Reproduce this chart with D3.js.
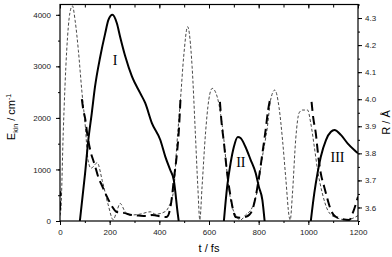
<!DOCTYPE html>
<html>
<head>
<meta charset="utf-8">
<script src="https://cdn.jsdelivr.net/npm/d3@7"></script>
<style>
  body { margin: 0; background: #fff; }
  svg { display: block; }
  .tick text { font-family: "Liberation Sans", Arial, sans-serif; font-size: 8px; fill: #222; }
  .axis path, .axis line { stroke: #000; }
</style>
</head>
<body>
<div id="container"></div>
<script>
// kinetic energy humps (t in fs, E in cm^-1)
const humpI = [[80,0],[101,925],[114,1571],[128,2095],[141,2605],[162,3187],[182,3640],[195,3900],[211,4000],[229,3835],[242,3575],[263,3190],[290,2800],[323,2480],[343,2290],[370,1900],[404,1571],[424,1250],[444,990],[458,800],[465,540],[471,270],[478,0]];
const humpII = [[660,0],[673,660],[687,1125],[700,1436],[716,1630],[727,1610],[747,1436],[768,1183],[788,930],[801,660],[815,407],[824,0]];
const humpIII = [[1010,0],[1024,540],[1037,930],[1050,1240],[1071,1571],[1091,1730],[1105,1765],[1131,1670],[1158,1507],[1185,1377],[1200,1313]];

// distance R (Å), short dashes
const rShort = [[0,3.57],[4,3.60],[13,3.875],[27,4.18],[40,4.32],[50,4.345],[61,4.29],[74,4.18],[88,4.03],[101,3.91],[113,3.775],[125,3.745],[150,3.765],[170,3.70],[194,3.61],[214,3.555],[230,3.59],[242,3.615],[263,3.583],[283,3.572],[320,3.575],[365,3.584],[384,3.575],[424,3.585],[438,3.603],[458,3.665],[471,3.838],[485,3.997],[498,4.157],[514,4.268],[532,4.12],[545,3.875],[555,3.676],[563,3.554],[572,3.676],[586,3.875],[599,3.997],[613,4.04],[633,4.009],[646,3.95],[660,3.85],[673,3.727],[687,3.628],[707,3.572],[727,3.554],[747,3.572],[774,3.60],[795,3.665],[815,3.787],[835,3.897],[848,3.997],[865,4.034],[882,3.97],[896,3.85],[909,3.71],[923,3.565],[927,3.554],[936,3.65],[949,3.85],[963,3.95],[976,3.96],[997,3.96],[1010,3.91],[1024,3.825],[1037,3.74],[1057,3.65],[1078,3.59],[1105,3.565],[1158,3.554],[1179,3.56],[1200,3.57]];

// distance R (Å), long dashes; null = gap where the curve is not shown
const rLong = [[0,3.59],[1.5,3.66],null,[88,4.0],[94,3.96],[101,3.93],[110,3.87],[121,3.815],[139,3.76],[155,3.71],[168,3.683],[189,3.64],[209,3.605],[229,3.583],[256,3.58],[290,3.572],[316,3.57],[350,3.568],[370,3.572],[424,3.565],[431,3.566],[451,3.64],[458,3.70],[471,3.80],[478,3.875],[485,3.997],null,[644,3.99],[650,3.92],[660,3.84],[673,3.727],[687,3.64],[700,3.58],[707,3.565],[727,3.562],[747,3.565],[761,3.572],[774,3.59],[788,3.64],[801,3.71],[815,3.80],[828,3.886],[838,3.96],[846,4.0],null,[1013,3.99],[1020,3.93],[1030,3.875],[1040,3.79],[1050,3.727],[1064,3.676],[1078,3.628],[1091,3.59],[1111,3.565],[1165,3.554],[1179,3.58],[1200,3.64]];

const humpLabels = ["I", "II", "III"];

const xTicks = [0,200,400,600,800,1000,1200];
const yTicks = [0,1000,2000,3000,4000];
const rTicks = [3.6,3.7,3.8,3.9,4.0,4.1,4.2,4.3];

const W = 392, H = 257;
const mLeft = 60, mRight = 358, mTop = 4.5, mBottom = 221;

const svg = d3.select('#container').append('svg').attr('width', W).attr('height', H);

const x = d3.scaleLinear().domain([0, 1200]).range([mLeft, mRight]);
const y = d3.scaleLinear().domain([0, 4200]).range([mBottom, mTop]);
const r = d3.scaleLinear().domain([3.55, 4.35]).range([mBottom, mTop]);

svg.append('clipPath').attr('id', 'clip')
  .append('rect').attr('x', mLeft).attr('y', mTop).attr('width', mRight - mLeft).attr('height', mBottom - mTop);

const plot = svg.append('g').attr('clip-path', 'url(#clip)');

const lineE = d3.line().x(d => x(d[0])).y(d => y(d[1])).curve(d3.curveMonotoneX);
const lineR = d3.line().defined(d => d !== null).x(d => x(d[0])).y(d => r(d[1])).curve(d3.curveMonotoneX);

plot.append('path').datum(rShort).attr('d', lineR)
  .attr('fill', 'none').attr('stroke', '#333').attr('stroke-width', 0.9).attr('stroke-dasharray', '3,2');
plot.append('path').datum(rLong).attr('d', lineR)
  .attr('fill', 'none').attr('stroke', '#000').attr('stroke-width', 2).attr('stroke-dasharray', '9,5');
[humpI, humpII, humpIII].forEach(h => {
  plot.append('path').datum(h).attr('d', lineE)
    .attr('fill', 'none').attr('stroke', '#000').attr('stroke-width', 2).attr('stroke-linejoin', 'round');
});

// roman numerals
const labelPos = [[115, 65], [240.8, 166.5], [337.5, 161.7]];
humpLabels.forEach((l, i) => {
  svg.append('text').attr('x', labelPos[i][0]).attr('y', labelPos[i][1])
    .attr('text-anchor', 'middle')
    .style('font-family', '"Liberation Serif", "Times New Roman", serif')
    .style('font-size', '14px').text(l);
});

function minor(domain, step) {
  const out = [];
  for (let v = domain[0]; v <= domain[1] + 1e-9; v += step) out.push(+v.toFixed(4));
  return out;
}

// bottom axis
svg.append('g').attr('class', 'axis').attr('transform', `translate(0,${mBottom})`)
  .call(d3.axisBottom(x).tickValues(minor([0, 1200], 100)).tickSize(2).tickFormat(''))
  .call(g => g.select('.domain').remove());
svg.append('g').attr('class', 'axis').attr('transform', `translate(0,${mBottom})`)
  .call(d3.axisBottom(x).tickValues(xTicks).tickSize(4).tickPadding(4).tickFormat(d3.format('d')))
  .call(g => g.select('.domain').remove());
// top axis (inward ticks)
svg.append('g').attr('class', 'axis').attr('transform', `translate(0,${mTop})`)
  .call(d3.axisBottom(x).tickValues(minor([0, 1200], 100)).tickSize(3).tickFormat(''))
  .call(g => g.select('.domain').remove());
svg.append('g').attr('class', 'axis').attr('transform', `translate(0,${mTop})`)
  .call(d3.axisBottom(x).tickValues(xTicks).tickSize(4).tickFormat(''))
  .call(g => g.select('.domain').remove());
// left axis
svg.append('g').attr('class', 'axis').attr('transform', `translate(${mLeft},0)`)
  .call(d3.axisLeft(y).tickValues(minor([0, 4000], 500)).tickSize(2).tickFormat(''))
  .call(g => g.select('.domain').remove());
svg.append('g').attr('class', 'axis').attr('transform', `translate(${mLeft},0)`)
  .call(d3.axisLeft(y).tickValues(yTicks).tickSize(4).tickPadding(5).tickFormat(d3.format('d')))
  .call(g => g.select('.domain').remove());
// right axis
svg.append('g').attr('class', 'axis').attr('transform', `translate(${mRight},0)`)
  .call(d3.axisRight(r).tickValues(minor([3.55, 4.35], 0.05)).tickSize(2).tickFormat(''))
  .call(g => g.select('.domain').remove());
svg.append('g').attr('class', 'axis').attr('transform', `translate(${mRight},0)`)
  .call(d3.axisRight(r).tickValues(rTicks).tickSize(4).tickPadding(3).tickFormat(d3.format('.1f')))
  .call(g => g.select('.domain').remove());

// frame
svg.append('rect').attr('x', mLeft).attr('y', mTop).attr('width', mRight - mLeft).attr('height', mBottom - mTop)
  .attr('fill', 'none').attr('stroke', '#000').attr('stroke-width', 1.2);

// axis titles
const titleFont = '"Liberation Sans", Arial, sans-serif';
svg.append('text').attr('x', (mLeft + mRight) / 2).attr('y', 252).attr('text-anchor', 'middle')
  .style('font-family', titleFont).style('font-size', '11px').text('t / fs');

const yl = svg.append('text').attr('transform', 'translate(15,117) rotate(-90)').attr('text-anchor', 'middle')
  .style('font-family', titleFont).style('font-size', '11px');
yl.append('tspan').text('E');
yl.append('tspan').attr('dy', 2.5).style('font-size', '7px').text('kin');
yl.append('tspan').attr('dy', -2.5).text(' / cm');
yl.append('tspan').attr('dy', -4).style('font-size', '7px').text('-1');

svg.append('text').attr('transform', 'translate(390,122.5) rotate(-90)').attr('text-anchor', 'middle')
  .style('font-family', titleFont).style('font-size', '11px').text('R / Å');
</script>
</body>
</html>
